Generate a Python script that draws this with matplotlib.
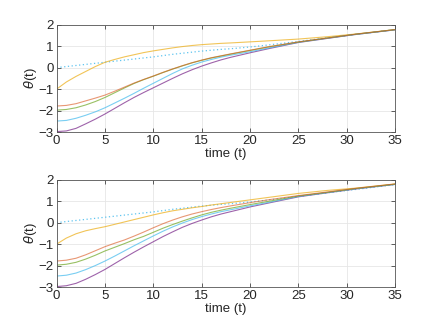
import matplotlib.pyplot as plt

# --- Data ---
t = [0, 1, 2, 3, 4, 5, 6, 7, 8, 9, 10, 11, 12, 13, 14, 15, 16, 17, 18, 20, 22, 25, 28, 31, 35]

# asymptotic (dotted) curve, same in both panels
ref = [0, 0.05, 0.10, 0.15, 0.20, 0.25, 0.30, 0.35, 0.40, 0.45, 0.50, 0.56, 0.62, 0.67, 0.72,
       0.77, 0.81, 0.85, 0.88, 0.96, 1.06, 1.22, 1.39, 1.55, 1.77]

# top panel
top_yellow = [-1.00, -0.67, -0.41, -0.18, 0.05, 0.25, 0.38, 0.50, 0.60, 0.70, 0.78, 0.85, 0.92,
              0.98, 1.03, 1.07, 1.10, 1.13, 1.15, 1.20, 1.25, 1.33, 1.44, 1.57, 1.77]
top_orange = [-1.79, -1.76, -1.68, -1.55, -1.42, -1.28, -1.10, -0.91, -0.72, -0.55, -0.39, -0.22,
              -0.06, 0.09, 0.23, 0.35, 0.46, 0.55, 0.64, 0.81, 0.98, 1.20, 1.38, 1.56, 1.77]
top_green = [-1.98, -1.95, -1.87, -1.74, -1.58, -1.39, -1.17, -0.95, -0.74, -0.56, -0.40, -0.23,
             -0.07, 0.08, 0.22, 0.34, 0.45, 0.54, 0.63, 0.80, 0.97, 1.19, 1.38, 1.56, 1.77]
top_cyan = [-2.49, -2.46, -2.36, -2.22, -2.06, -1.87, -1.65, -1.43, -1.20, -0.96, -0.73, -0.50,
            -0.27, -0.06, 0.11, 0.26, 0.38, 0.49, 0.58, 0.74, 0.92, 1.18, 1.37, 1.55, 1.76]
top_purple = [-2.98, -2.95, -2.83, -2.62, -2.40, -2.16, -1.90, -1.64, -1.39, -1.16, -0.94, -0.72,
              -0.50, -0.29, -0.10, 0.07, 0.22, 0.36, 0.48, 0.69, 0.89, 1.17, 1.36, 1.55, 1.76]

# bottom panel
bot_yellow = [-1.00, -0.72, -0.52, -0.38, -0.28, -0.19, -0.08, 0.03, 0.14, 0.25, 0.36, 0.46, 0.55,
              0.62, 0.69, 0.75, 0.82, 0.88, 0.94, 1.06, 1.18, 1.36, 1.50, 1.61, 1.80]
bot_orange = [-1.79, -1.75, -1.66, -1.50, -1.31, -1.12, -0.96, -0.81, -0.63, -0.44, -0.24, -0.05,
              0.12, 0.27, 0.40, 0.51, 0.61, 0.70, 0.78, 0.93, 1.07, 1.26, 1.43, 1.60, 1.80]
bot_green = [-1.98, -1.94, -1.85, -1.70, -1.52, -1.32, -1.15, -0.98, -0.80, -0.64, -0.45, -0.26,
             -0.09, 0.07, 0.22, 0.36, 0.48, 0.58, 0.67, 0.84, 1.00, 1.24, 1.41, 1.59, 1.79]
bot_cyan = [-2.49, -2.45, -2.35, -2.19, -2.00, -1.79, -1.56, -1.32, -1.08, -0.85, -0.62, -0.40,
            -0.20, -0.02, 0.14, 0.28, 0.40, 0.51, 0.60, 0.78, 0.95, 1.22, 1.40, 1.58, 1.78]
bot_purple = [-2.98, -2.94, -2.83, -2.64, -2.42, -2.18, -1.91, -1.64, -1.38, -1.13, -0.89, -0.65,
              -0.43, -0.22, -0.04, 0.12, 0.27, 0.40, 0.51, 0.73, 0.92, 1.20, 1.39, 1.57, 1.78]

xticks = [0, 5, 10, 15, 20, 25, 30, 35]
yticks = [-3, -2, -1, 0, 1, 2]

# MATLAB default colour order
c_orange = (0.85, 0.325, 0.098)
c_yellow = (0.929, 0.694, 0.125)
c_purple = (0.494, 0.184, 0.556)
c_green = (0.466, 0.674, 0.188)
c_cyan = (0.301, 0.745, 0.933)

plt.rcParams['font.family'] = ['Liberation Sans', 'DejaVu Sans']
plt.rcParams['font.size'] = 9.5

fig = plt.figure(figsize=(4.36, 3.27), dpi=100)
ax_top = fig.add_axes([0.130, 0.5963, 0.776, 0.3282])
ax_bot = fig.add_axes([0.130, 0.1223, 0.776, 0.3282])

panels = [
    (ax_top, top_yellow, top_orange, top_green, top_cyan, top_purple),
    (ax_bot, bot_yellow, bot_orange, bot_green, bot_cyan, bot_purple),
]

for ax, yel, ora, gre, cya, pur in panels:
    ax.plot(t, ref, linestyle=(0, (1, 2)), color=c_cyan, lw=0.9, alpha=0.9)
    ax.plot(t, yel, color=c_yellow, lw=0.8, alpha=0.75)
    ax.plot(t, pur, color=c_purple, lw=0.8, alpha=0.75)
    ax.plot(t, cya, color=c_cyan, lw=0.8, alpha=0.75)
    ax.plot(t, gre, color=c_green, lw=0.8, alpha=0.75)
    ax.plot(t, ora, color=c_orange, lw=0.8, alpha=0.6)

    ax.set_xlim(0, 35)
    ax.set_ylim(-3, 2)
    ax.set_xticks(xticks)
    ax.set_yticks(yticks)
    ax.grid(True, color='#e6e6e6', lw=0.6)
    ax.set_axisbelow(True)
    ax.tick_params(direction='in', top=True, right=True, length=3,
                   width=0.6, color='#444444', labelcolor='#262626', pad=2)
    for sp in ax.spines.values():
        sp.set_color('#555555')
        sp.set_linewidth(0.6)
    ax.set_xlabel('time (t)', color='#262626', labelpad=1)
    ax.set_ylabel(r'$\theta$(t)', color='#262626', labelpad=0)

fig.savefig('out.png', dpi=100)
